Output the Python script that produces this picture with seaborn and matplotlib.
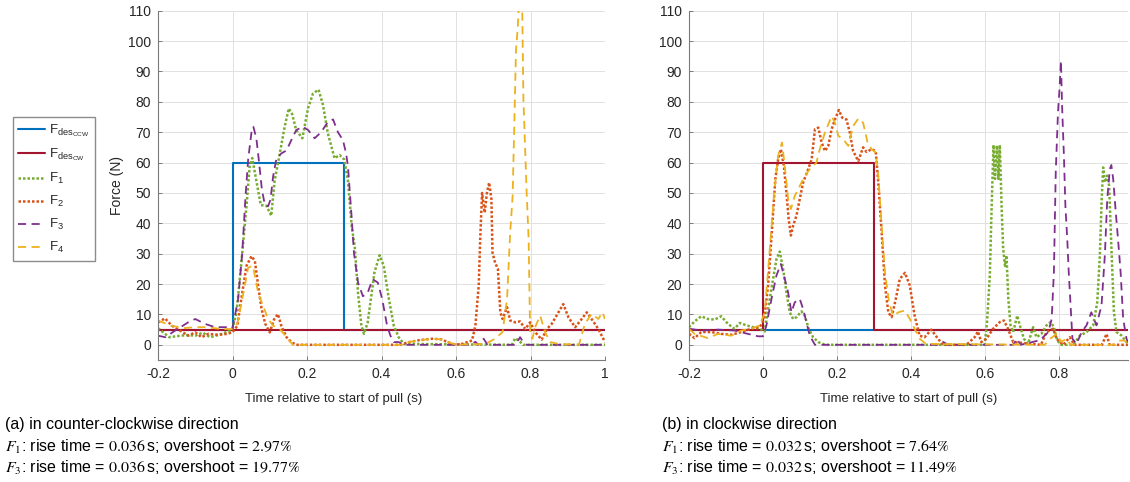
import matplotlib
matplotlib.use("Agg")
import matplotlib.pyplot as plt
import pandas as pd
import seaborn as sns

# ---------------------------------------------------------------------------
# Desired force profiles (N)
# ---------------------------------------------------------------------------
step_t = [-0.2, 0.0, 0.0, 0.3, 0.3, 1.0]
step_f = [5, 5, 60, 60, 5, 5]
flat_t = [-0.2, 1.0]
flat_f = [5, 5]

# ---------------------------------------------------------------------------
# (a) counter-clockwise pull: measured forces F1..F4 (N)
# ---------------------------------------------------------------------------
ccw_t1 = [-0.2, -0.17, -0.14, -0.12, -0.1, -0.08, -0.06, -0.03, -0.01, 0.0, 0.011, 0.026,
          0.0375, 0.046, 0.053, 0.064, 0.076, 0.091, 0.104, 0.113, 0.127, 0.14, 0.151, 0.16,
          0.171, 0.1875, 0.203, 0.216, 0.231, 0.243, 0.256, 0.274, 0.2875, 0.30, 0.31, 0.32,
          0.328, 0.337, 0.346, 0.353, 0.363, 0.381, 0.395, 0.406, 0.42, 0.433, 0.446, 0.46,
          0.75, 0.759, 0.772, 0.78, 1.0]
ccw_f1 = [5.5, 2.5, 3.0, 3.2, 3.0, 4.0, 2.5, 3.5, 4.5, 5.5, 10.7, 30,
          45.6, 58.7, 61.5, 54, 46, 45.8, 42.5, 54, 63, 71.8, 77.8, 76,
          70.7, 68, 78, 82.7, 84, 78.9, 69.6, 61.4, 62.5, 61, 54, 39,
          32.5, 17, 6.3, 3.6, 7.4, 23.8, 29.5, 26, 15, 6.3, 2.5, 0.3,
          0, 2.2, 1, 0, 0]

ccw_t2 = [-0.2, -0.181, -0.163, -0.137, -0.119, -0.10, -0.083, -0.065, -0.038, -0.016, 0.0,
          0.013, 0.026, 0.0375, 0.051, 0.06, 0.069, 0.078, 0.088, 0.10, 0.112, 0.122, 0.131,
          0.145, 0.158, 0.171, 0.45, 0.47, 0.5, 0.536, 0.56, 0.58, 0.598, 0.616, 0.643, 0.652,
          0.661, 0.665, 0.67, 0.677, 0.683, 0.689, 0.695, 0.698, 0.705, 0.7125, 0.719, 0.725,
          0.737, 0.7455, 0.759, 0.772, 0.786, 0.799, 0.8125, 0.83, 0.844, 0.857, 0.875, 0.888,
          0.902, 0.92, 0.9375, 0.951, 0.964, 0.982, 1.0]
ccw_f2 = [7.4, 8.7, 6.3, 4.4, 3, 4.1, 2.5, 3.6, 3.3, 3.6, 4.1,
          6.3, 17, 26, 29.2, 27.6, 19.4, 11.8, 6.9, 4.1, 8.5, 10.1, 6.3,
          2.5, 0.9, 0, 0, 0.8, 1.5, 2, 1.8, 0.8, 0, 0.3, 1.4, 6.3,
          19.5, 34.8, 50, 43.5, 50, 53.4, 48, 30.4, 27, 25, 10.7, 8.5,
          12.4, 8, 7.4, 7.7, 5.2, 7.4, 4.2, 1.7, 5.2, 6.9, 10.7, 13.4,
          9, 5.8, 8.5, 10.7, 8.5, 5.2, 0.9]

ccw_t3 = [-0.2, -0.18, -0.154, -0.119, -0.10, -0.074, -0.047, -0.016, 0.0, 0.015, 0.026,
          0.035, 0.042, 0.051, 0.056, 0.064, 0.0705, 0.079, 0.087, 0.0955, 0.102, 0.109,
          0.118, 0.131, 0.145, 0.158, 0.171, 0.189, 0.203, 0.2205, 0.238, 0.256, 0.27, 0.283,
          0.2965, 0.305, 0.31, 0.319, 0.326, 0.337, 0.35, 0.3625, 0.376, 0.39, 0.402, 0.415,
          0.424, 0.433, 0.446, 0.46, 0.64, 0.652, 0.66, 0.674, 0.685, 0.76, 0.772, 0.78,
          0.79, 1.0]
ccw_f3 = [3, 2.5, 4.7, 7.4, 8.5, 6.9, 5.8, 5.8, 5.5, 15, 30,
          49, 61, 70, 71.8, 68, 61, 51, 46, 45.6, 47.8, 55.4,
          61.4, 63, 64, 67.4, 70.7, 71.8, 70.7, 68, 70, 73.4, 74.2, 70,
          67.4, 63, 58.7, 43.4, 30.3, 20.5, 16, 17, 21.6, 20.5, 15, 6.3,
          3, 0.9, 0.9, 0, 0, 1, 0, 2, 0, 0, 2.5, 1,
          0, 0]

ccw_t4 = [-0.2, -0.165, -0.13, -0.1, -0.07, -0.03, 0.0, 0.013, 0.026, 0.042, 0.055, 0.069,
          0.082, 0.0955, 0.109, 0.127, 0.145, 0.162, 0.45, 0.47, 0.5, 0.536, 0.56, 0.58, 0.6,
          0.679, 0.705, 0.725, 0.737, 0.7455, 0.752, 0.757, 0.761, 0.766, 0.771, 0.777,
          0.781, 0.79, 0.795, 0.799, 0.805, 0.814, 0.826, 0.839, 0.853, 0.875, 0.93, 0.946,
          0.964, 0.982, 0.993, 1.0]
ccw_f4 = [8, 6.3, 5.5, 5.8, 5.8, 5.2, 5.2, 7, 15, 25.4, 26, 17,
          12.9, 8.5, 6.3, 5.2, 2.5, 0, 0, 0.8, 1.5, 2, 1.8, 0.8, 0,
          0.3, 2, 4.2, 15, 37, 49, 75, 97, 104.8, 118, 118,
          80.7, 49, 34.8, 4.2, 2, 6.3, 9.6, 4.2, 0.9, 0.3, 0, 6.9,
          10.2, 8.5, 10.7, 8.5]

# ---------------------------------------------------------------------------
# (b) clockwise pull: measured forces F1..F4 (N)
# ---------------------------------------------------------------------------
cw_t1 = [-0.2, -0.185, -0.167, -0.149, -0.131, -0.113, -0.095, -0.077, -0.063, -0.045,
         -0.027, -0.009, 0.0045, 0.0135, 0.024, 0.036, 0.045, 0.054, 0.063, 0.072, 0.081,
         0.09, 0.1035, 0.1125, 0.123, 0.135, 0.149, 0.167, 0.598, 0.6045, 0.612, 0.617,
         0.622, 0.626, 0.631, 0.635, 0.639, 0.644, 0.648, 0.653, 0.657, 0.662, 0.668, 0.675,
         0.686, 0.693, 0.704, 0.715, 0.729, 0.738, 0.751, 0.765, 0.776, 0.785, 0.794, 0.805,
         0.837, 0.855, 0.873, 0.891, 0.902, 0.909, 0.914, 0.918, 0.923, 0.929, 0.934, 0.94,
         0.947, 0.954, 0.968, 0.981, 0.985]
cw_f1 = [5.8, 7.7, 9.4, 8.5, 8.3, 9.4, 6.9, 5.3, 7.2, 6.4,
         5.8, 5.3, 4.4, 11.8, 19.5, 28.2, 30.7, 25, 17.3, 10.7, 8.5,
         9.1, 11, 9.6, 5.3, 2.5, 0.9, 0, 0, 7.5, 22.8, 45.8,
         65.8, 54.6, 65.6, 54.6, 65.8, 44.7, 31.6, 26, 29.4, 15, 6.4, 4.2,
         9.6, 6.4, 2, 0.3, 5.8, 2.5, 3.6, 6.4, 7.5, 5.8, 1.4, 0,
         0, 3, 4.2, 6.4, 14, 29.4, 48, 58.4, 53.5, 55.7, 52.4, 32.7,
         10.7, 4.2, 3, 0.9, 0.5]

cw_t2 = [-0.2, -0.185, -0.167, -0.14, -0.113, -0.086, -0.059, -0.032, -0.009, 0.003, 0.0135,
         0.024, 0.033, 0.0405, 0.048, 0.056, 0.063, 0.069, 0.075, 0.081, 0.09, 0.099, 0.108,
         0.12, 0.131, 0.14, 0.149, 0.158, 0.167, 0.176, 0.185, 0.194, 0.2045, 0.2135, 0.225,
         0.234, 0.243, 0.257, 0.27, 0.279, 0.293, 0.304, 0.311, 0.32, 0.329, 0.338, 0.347,
         0.358, 0.369, 0.383, 0.396, 0.409, 0.4225, 0.436, 0.454, 0.472, 0.486, 0.549, 0.571,
         0.58, 0.589, 0.603, 0.621, 0.639, 0.65, 0.661, 0.675, 0.75, 0.765, 0.783, 0.792,
         0.81, 0.828, 0.84, 0.915, 0.927, 0.935, 0.985]
cw_f2 = [3.6, 2.2, 4.2, 4.2, 3.6, 3.3, 4.2, 5.3, 5.8, 8.5, 19.5,
         38, 54.5, 61, 64.4, 58.9, 50, 41.4, 36, 39.2, 42.5, 48, 53.4,
         57.3, 61, 71, 71.5, 66.6, 63.8, 65.5, 71, 74.2, 77.3, 74.8, 74.2,
         69.9, 63.8, 60.5, 65, 63.5, 64.4, 63.8, 53.4, 37, 19.5, 10.7, 9.1,
         15, 21.7, 23.7, 19.5, 9.6, 3, 2.5, 5, 2, 0, 0, 2.5,
         4.4, 0.9, 2, 5.3, 7.5, 8, 5.3, 0.9, 0, 4.2, 5.3, 2,
         0, 2.5, 0, 0, 3.6, 0, 0]

cw_t3 = [-0.2, -0.167, -0.122, -0.077, -0.041, -0.0135, 0.0, 0.009, 0.0225, 0.036, 0.048,
         0.0585, 0.0675, 0.0765, 0.0855, 0.099, 0.108, 0.117, 0.126, 0.14, 0.47, 0.485, 0.5,
         0.675, 0.685, 0.695, 0.747, 0.77, 0.779, 0.785, 0.79, 0.796, 0.8, 0.804, 0.807,
         0.812, 0.816, 0.821, 0.825, 0.83, 0.835, 0.846, 0.86, 0.873, 0.886, 0.9, 0.9135,
         0.9225, 0.929, 0.936, 0.94, 0.945, 0.952, 0.958, 0.965, 0.972, 0.981, 0.985]
cw_f3 = [5.3, 4.7, 5, 4.7, 3.6, 2.8, 2.8, 6.4, 15, 22.8, 26.6,
         21.7, 17.3, 10.7, 14, 15.1, 11.8, 7.4, 3, 0, 0, 1, 0,
         0, 2, 0, 1.5, 4.2, 8.5, 24, 57, 76.5, 84, 93.5, 78.7,
         62.3, 45.8, 34.9, 24, 13, 2, 0.3, 4.2, 6.4, 10.7, 6.4, 13,
         29.4, 48, 57.9, 59.2, 54.6, 43.6, 34.9, 24, 8.5, 2, 0.9]

cw_t4 = [-0.2, -0.185, -0.149, -0.122, -0.086, -0.059, -0.032, -0.009, 0.0045, 0.018, 0.03,
         0.0405, 0.051, 0.0585, 0.0675, 0.075, 0.0855, 0.099, 0.1125, 0.126, 0.144, 0.153,
         0.167, 0.185, 0.194, 0.203, 0.216, 0.23, 0.243, 0.257, 0.27, 0.282, 0.293, 0.304,
         0.311, 0.32, 0.329, 0.34, 0.351, 0.365, 0.383, 0.396, 0.409, 0.4225, 0.44, 0.76,
         0.775, 0.792, 0.805, 0.819, 0.83, 0.95, 0.96, 0.975, 0.985]
cw_f4 = [5.3, 3.6, 2.2, 3.6, 3, 4.7, 5.3, 6.4, 10.7, 31.5, 50,
         62.2, 66.6, 58.9, 48, 44.7, 49, 52.3, 55.6, 57.8, 60, 64.4,
         69.9, 75.3, 73.1, 68.8, 67.7, 65.5, 72, 74.5, 73.1, 66.6, 64.4, 63.3,
         55.6, 39.2, 23.9, 14, 9.6, 10.7, 11.3, 8.5, 5.3, 2, 0.3, 0,
         2, 3.6, 1, 2, 0, 0, 1.4, 1.4, 0.5]

# Captions
caption_a = ["(a) in counter-clockwise direction",
             r"$F_1$: rise time = $0.036\,$s; overshoot = $2.97\%$",
             r"$F_3$: rise time = $0.036\,$s; overshoot = $19.77\%$"]
caption_b = ["(b) in clockwise direction",
             r"$F_1$: rise time = $0.032\,$s; overshoot = $7.64\%$",
             r"$F_3$: rise time = $0.032\,$s; overshoot = $11.49\%$"]

labels = [r"F$_{\mathregular{des}_{\mathregular{CCW}}}$",
          r"F$_{\mathregular{des}_{\mathregular{CW}}}$",
          r"F$_\mathregular{1}$", r"F$_\mathregular{2}$",
          r"F$_\mathregular{3}$", r"F$_\mathregular{4}$"]

# Line appearance for each trace (MATLAB-like default colour order)
styles = [
    dict(color="#0072BD", lw=1.5, dashes=None),        # Fdes CCW
    dict(color="#A2142F", lw=1.5, dashes=None),        # Fdes CW
    dict(color="#77AC30", lw=1.8, dashes=(1.0, 0.8)),  # F1 dotted
    dict(color="#D95319", lw=1.8, dashes=(1.0, 0.8)),  # F2 dotted
    dict(color="#7E2F8E", lw=1.3, dashes=(4.5, 3.0)),  # F3 dashed
    dict(color="#EDB120", lw=1.3, dashes=(4.5, 3.0)),  # F4 dashed
]

panels = [
    [(step_t, step_f), (flat_t, flat_f), (ccw_t1, ccw_f1), (ccw_t2, ccw_f2),
     (ccw_t3, ccw_f3), (ccw_t4, ccw_f4)],
    [(flat_t, flat_f), (step_t, step_f), (cw_t1, cw_f1), (cw_t2, cw_f2),
     (cw_t3, cw_f3), (cw_t4, cw_f4)],
]

sns.set_style("ticks")
plt.rcParams.update({
    "font.family": ["Liberation Sans", "DejaVu Sans"],
    "axes.unicode_minus": False,
    "mathtext.fontset": "dejavusans",
})

W, H = 1130, 482
fig = plt.figure(figsize=(W / 100, H / 100), dpi=100)
ax_a = fig.add_axes([158 / W, 1 - 360 / H, 447 / W, 349.3 / H])
ax_b = fig.add_axes([689 / W, 1 - 360 / H, 439 / W, 349.3 / H])
axes = [ax_a, ax_b]
xlims = [(-0.2, 1.0), (-0.2, 0.985)]
xticks = [[-0.2, 0, 0.2, 0.4, 0.6, 0.8, 1.0], [-0.2, 0, 0.2, 0.4, 0.6, 0.8]]

for ax, traces, xl, xt in zip(axes, panels, xlims, xticks):
    for (t, f), st, lab in zip(traces, styles, labels):
        df = pd.DataFrame({"t": t, "force": f})
        sns.lineplot(data=df, x="t", y="force", ax=ax, color=st["color"],
                     linewidth=st["lw"], estimator=None, sort=False, label=lab,
                     legend=False)
        line = ax.lines[-1]
        if st["dashes"] is not None:
            line.set_dashes(st["dashes"])
    ax.set_xlim(*xl)
    ax.set_ylim(-5, 110)
    ax.set_xticks(xt)
    ax.set_xticklabels([f"{v:g}" for v in xt])
    ax.set_yticks(range(0, 111, 10))
    ax.grid(True, color="#e1e1e1", linewidth=0.7)
    ax.set_axisbelow(True)
    for side in ("top", "right"):
        ax.spines[side].set_visible(False)
    for side in ("left", "bottom"):
        ax.spines[side].set_color("#7a7a7a")
        ax.spines[side].set_linewidth(0.8)
    ax.tick_params(direction="in", length=3, width=0.7, color="#7a7a7a",
                   labelsize=10, labelcolor="#262626", pad=5)
    ax.set_xlabel("Time relative to start of pull (s)", fontsize=9.5, color="#262626")
    ax.set_ylabel("")

ax_a.xaxis.set_label_coords(0.392, -0.095)
ax_b.xaxis.set_label_coords(0.5, -0.095)
ax_a.set_ylabel("Force (N)", fontsize=10, color="#262626")
ax_a.yaxis.set_label_coords(-0.076, 0.5)

handles = ax_a.lines[:6]
fig.legend(handles, labels, loc="upper left", bbox_to_anchor=(13 / W, 1 - 117 / H),
           borderaxespad=0.0, frameon=True, fancybox=False, edgecolor="#8c8c8c",
           fontsize=9.5, handlelength=2.0, handletextpad=0.35, labelspacing=0.6,
           borderpad=0.4, framealpha=1.0)

for x0, lines in ((5, caption_a), (662, caption_b)):
    for i, s in enumerate(lines):
        fig.text(x0 / W, 1 - (425 + 21.5 * i) / H, s, fontsize=11.5,
                 va="center", ha="left", color="black", math_fontfamily="stix")

fig.savefig("out.png", dpi=100)
